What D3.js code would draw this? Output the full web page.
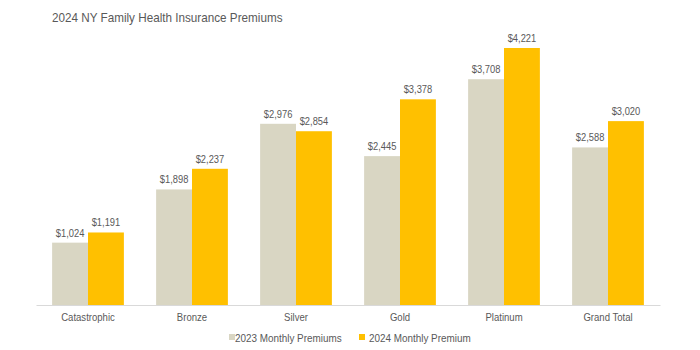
<!DOCTYPE html>
<html><head><meta charset="utf-8">
<script src="https://cdn.jsdelivr.net/npm/d3@7"></script>
<style>body{margin:0;background:#fff}svg{display:block;font-family:"Liberation Sans",Arial,sans-serif}</style>
</head><body><svg id="c" width="700" height="350"></svg>
<script>
const categories = ["Catastrophic","Bronze","Silver","Gold","Platinum","Grand Total"];
const series = ["2023 Monthly Premiums","2024 Monthly Premium"];
const values2023 = [1024,1898,2976,2445,3708,2588];
const values2024 = [1191,2237,2854,3378,4221,3020];
const colors = ["#D9D6C3","#FFC000"];

const svg = d3.select("#c");
const left = 36, right = 660, base = 305;
const x = d3.scaleBand().domain(categories).range([left,right]).paddingInner(0.31).paddingOuter(0.155);
const x1 = d3.scaleBand().domain(series).range([0,x.bandwidth()]);
const y = d3.scaleLinear().domain([0,4500]).range([base,31]);
const data = categories.map((c,i)=>({c, v:[values2023[i],values2024[i]]}));
const fmt = d3.format("$,");
const txt = "#595959";

svg.append("text").attr("transform","translate(52,22) scale(0.9,1)").attr("font-size",13).attr("fill",txt).text("2024 NY Family Health Insurance Premiums");

const g = svg.selectAll("g.grp").data(data).join("g").attr("class","grp").attr("transform",d=>`translate(${x(d.c)},0)`);
g.selectAll("rect").data(d=>d.v.map((v,i)=>({s:series[i],v,i}))).join("rect")
  .attr("x",d=>x1(d.s)).attr("width",x1.bandwidth()).attr("y",d=>y(d.v)).attr("height",d=>base-y(d.v)).attr("fill",d=>colors[d.i]);
g.selectAll("text.val").data(d=>d.v.map((v,i)=>({s:series[i],v,i}))).join("text").attr("class","val")
  .attr("transform",d=>`translate(${x1(d.s)+x1.bandwidth()/2},${y(d.v)-6}) scale(0.85,1)`).attr("text-anchor","middle")
  .attr("font-size",11).attr("fill",txt).text(d=>fmt(d.v));

const ax = svg.append("g").attr("transform",`translate(0,${base})`).call(d3.axisBottom(x).tickSize(0).tickPadding(8));
ax.select(".domain").attr("stroke","#D9D9D9");
ax.selectAll("text").attr("font-size",11).attr("fill",txt).attr("font-family","Liberation Sans, Arial, sans-serif").attr("transform","scale(0.87,1)");

const lg = svg.append("g");
const items = [{x:229,t:235},{x:359,t:369}];
series.forEach((s,i)=>{
  lg.append("rect").attr("x",items[i].x).attr("y",334).attr("width",6).attr("height",6).attr("fill",colors[i]);
  lg.append("text").attr("transform",`translate(${items[i].t},341.5) scale(0.9,1)`).attr("font-size",11).attr("fill",txt).text(s);
});
</script></body></html>
